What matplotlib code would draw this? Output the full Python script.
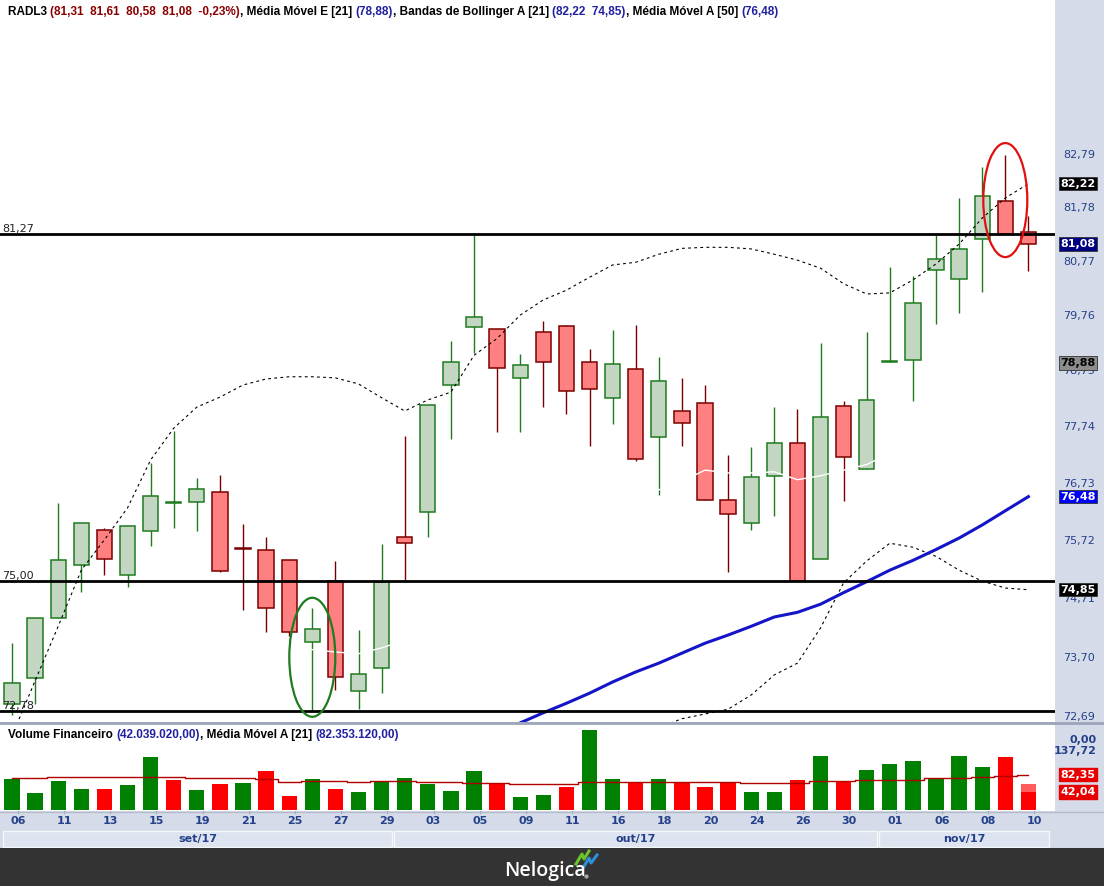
import numpy as np
import matplotlib
matplotlib.use("Agg")
import matplotlib.pyplot as plt
from matplotlib.patches import Ellipse, Rectangle
from matplotlib.lines import Line2D
from matplotlib.text import Annotation
from matplotlib.ticker import NullLocator, NullFormatter
from matplotlib.transforms import ScaledTranslation, blended_transform_factory

# ---- dados (RADL3, diário) ----
days = ["06", "08", "11", "12", "13", "14", "15", "18", "19", "20", "21", "22", "25", "26", "27",
        "28", "29", "02", "03", "04", "05", "06", "09", "10", "11", "13", "16", "17", "18", "19",
        "20", "23", "24", "25", "26", "27", "30", "31", "01", "03", "06", "07", "08", "09", "10"]
months = ["set/17"] * 17 + ["out/17"] * 21 + ["nov/17"] * 7

opens = [72.90, 73.34, 74.37, 75.28, 75.89, 75.10, 75.87, 76.36, 76.38, 76.56, 75.57, 75.54, 75.37,
         73.95, 75.00, 73.12, 73.51, 75.77, 76.21, 78.48, 79.54, 79.50, 78.61, 79.45, 79.56, 78.90,
         78.25, 78.77, 77.54, 78.01, 78.16, 76.42, 76.01, 76.85, 77.43, 75.38, 78.10, 76.97, 78.89,
         78.94, 80.60, 80.43, 81.18, 81.89, 81.31]
highs = [73.93, 74.36, 76.37, 76.01, 75.92, 75.96, 77.08, 77.65, 76.81, 76.86, 75.99, 75.77, 75.37,
         74.53, 75.35, 74.16, 75.65, 77.56, 78.12, 79.29, 81.27, 79.50, 79.04, 79.65, 79.58, 79.13,
         79.49, 79.58, 78.99, 78.61, 78.48, 77.22, 77.36, 78.08, 78.05, 79.25, 78.19, 79.45, 80.65,
         80.48, 81.25, 81.95, 82.54, 82.77, 81.61]
lows = [72.71, 72.90, 74.37, 74.81, 75.11, 74.90, 75.61, 75.92, 75.87, 75.15, 74.50, 74.12, 74.05,
        72.80, 73.13, 72.81, 73.08, 75.00, 75.77, 77.51, 79.06, 77.63, 77.63, 78.08, 77.96, 77.38,
        77.78, 77.12, 76.51, 77.38, 76.42, 75.15, 75.90, 76.14, 75.00, 75.38, 76.40, 76.97, 78.89,
        78.19, 79.60, 79.80, 80.19, 81.27, 80.58]
closes = [73.25, 74.36, 75.37, 76.01, 75.38, 75.96, 76.49, 76.37, 76.61, 75.18, 75.56, 74.53, 74.12,
          74.17, 73.35, 73.41, 74.98, 75.66, 78.12, 78.90, 79.72, 78.79, 78.84, 78.90, 78.37, 78.41,
          78.86, 77.15, 78.55, 77.79, 76.42, 76.17, 76.83, 77.43, 75.00, 77.90, 77.19, 78.21, 78.90,
          79.98, 80.81, 80.99, 81.99, 81.27, 81.08]

ema21 = [72.40, 72.50, 72.70, 72.90, 73.10, 73.30, 73.50, 73.65, 73.78, 73.88, 73.95, 73.95, 73.90,
         73.82, 73.78, 73.75, 73.85, 73.98, 74.20, 74.50, 74.90, 75.20, 75.45, 75.70, 75.90, 76.10,
         76.30, 76.45, 76.60, 76.75, 76.95, 76.90, 76.90, 76.92, 76.78, 76.85, 76.95, 77.05, 77.25,
         77.50, 77.75, 78.00, 78.30, 78.60, 78.88]
bb_upper = [72.36, 73.29, 74.22, 75.19, 75.72, 76.28, 77.13, 77.70, 78.08, 78.26, 78.48, 78.59, 78.63,
            78.63, 78.61, 78.50, 78.25, 78.01, 78.21, 78.35, 79.02, 79.33, 79.76, 80.04, 80.22, 80.46,
            80.69, 80.74, 80.89, 81.00, 81.02, 81.02, 80.99, 80.89, 80.78, 80.63, 80.34, 80.15, 80.17,
            80.41, 80.71, 81.08, 81.57, 81.95, 82.22]
nan = np.nan
bb_lower = [nan] * 27 + [72.38, 72.50, 72.65, 72.73, 72.81, 73.05, 73.39, 73.59, 74.19, 74.97, 75.35,
                         75.66, 75.59, 75.43, 75.19, 75.00, 74.88, 74.85]
sma50 = [nan] * 22 + [72.58, 72.75, 72.91, 73.08, 73.27, 73.44, 73.59, 73.76, 73.93, 74.07, 74.22,
                      74.38, 74.46, 74.60, 74.80, 74.99, 75.19, 75.36, 75.55, 75.75, 75.98, 76.23, 76.48]

# volume financeiro em milhões de R$
volume = [72.4, 39.7, 67.8, 49.1, 49.1, 58.4, 123.8, 70.1, 46.7, 60.7, 63.1, 91.1, 32.7, 72.4, 49.1,
          42.1, 67.8, 74.8, 60.7, 44.4, 91.1, 63.1, 30.4, 35.0, 53.7, 187.0, 72.4, 65.4, 72.4, 65.4,
          53.7, 65.4, 42.1, 42.1, 70.1, 126.2, 67.8, 93.5, 107.5, 114.5, 74.8, 126.2, 100.5, 123.8,
          42.03902]
vol_proj_last = 60.7
vol_ma21 = [74.8, 74.8, 77.1, 77.1, 77.1, 77.1, 77.1, 77.1, 74.8, 74.8, 74.8, 72.4, 65.4, 67.8, 67.8,
            65.4, 67.8, 67.8, 65.4, 65.4, 63.1, 63.1, 60.7, 60.7, 60.7, 65.4, 65.4, 65.4, 65.4, 65.4,
            65.4, 65.4, 63.1, 63.1, 63.1, 67.8, 67.8, 70.1, 70.1, 70.1, 74.8, 74.8, 77.1, 79.4, 82.35312]

levels = [81.27, 75.00, 72.78]
price_ticks = [72.69, 73.70, 74.71, 75.72, 76.73, 77.74, 78.75, 79.76, 80.77, 81.78, 82.79]


def br(v, nd=2):
    return f"{v:,.{nd}f}".replace(",", "X").replace(".", ",").replace("X", ".")


W, H = 1104, 886
BG = "#d5dbe8"
NAVY_TXT = "#23408a"
HEAD_FONT = "Liberation Sans"
fig = plt.figure(figsize=(W / 100, H / 100), dpi=100, facecolor=BG)


def box(x0, y0, x1, y1):
    return [x0 / W, 1 - y1 / H, (x1 - x0) / W, (y1 - y0) / H]


def rich_chain(x, y, pieces, size):
    prev = fig.text(x / W, 1 - y / H, pieces[0][0], color=pieces[0][1], fontsize=size,
                    family=HEAD_FONT, fontweight="bold", va="center", ha="left", zorder=10)
    for s, col in pieces[1:]:
        a = Annotation(s, xy=(1, 0.5), xycoords=prev, va="center", ha="left", color=col,
                       fontsize=size, family=HEAD_FONT, fontweight="bold", annotation_clip=False)
        a.set_zorder(10)
        fig.add_artist(a)
        prev = a


n = len(closes)
idx = np.arange(n)
o, h, l, c = map(np.array, (opens, highs, lows, closes))
xlim = (-12 / 23.1, (1055 - 12) / 23.1)

# ---- painel de preço ----
ax = fig.add_axes(box(0, 0, 1055, 722))
ax.set_facecolor("white")
ax.set_yscale("log")
ax.set_ylim(72.595, 85.79)
ax.set_xlim(*xlim)
for s in ax.spines.values():
    s.set_visible(False)
ax.set_xticks([])

up = c >= o
wick = np.where(up, "#1e7b1e", "#7a0000")
fill = np.where(up, "#c2d6c2", "#ff8080")
lo_b = np.minimum(o, c)
hgt = np.maximum(np.abs(c - o), 0.02)
ax.vlines(idx, l, h, colors=wick, lw=1.0, zorder=2)
ax.bar(idx, hgt, bottom=lo_b, width=0.66, color=fill, edgecolor=wick, lw=1.1, zorder=3)

ax.plot(idx, ema21, color="white", lw=1, zorder=4)
ax.plot(idx, bb_upper, color="black", lw=0.8, ls=(0, (2.5, 3)), zorder=4)
ax.plot(idx, bb_lower, color="black", lw=0.8, ls=(0, (2.5, 3)), zorder=4)
ax.plot(idx, sma50, color="#1414c8", lw=2.2, zorder=4)

for lv in levels:
    ax.axhline(lv, color="black", lw=2, zorder=5)
    ax.text(0.002, lv, br(lv), transform=blended_transform_factory(ax.transAxes, ax.transData),
            fontsize=8, color="#222222", va="bottom", ha="left", zorder=6)

ax.yaxis.tick_right()
ax.yaxis.set_minor_locator(NullLocator())
ax.yaxis.set_minor_formatter(NullFormatter())
ax.set_yticks(price_ticks)
ax.set_yticklabels([br(v) for v in price_ticks])
ax.tick_params(axis="y", length=0, pad=6, labelsize=8, labelcolor=NAVY_TXT)

btr = blended_transform_factory(ax.transAxes, ax.transData)
tags = [(bb_upper[-1], "black", "white"), (closes[-1], "#000080", "white"),
        (ema21[-1], "#8c8c8c", "black"), (sma50[-1], "#0000ff", "white"),
        (bb_lower[-1], "black", "white")]
for val, fc, tc in tags:
    ax.text(1078 / 1055, val, br(val), transform=btr, ha="center", va="center", fontsize=8,
            fontweight="bold", color=tc, clip_on=False, zorder=7,
            bbox=dict(boxstyle="square,pad=0.15", fc=fc, ec="#333333", lw=0.6))

# destaques
for i, pc, w, hh, col in [(43, 81.91, 0.44, 1.14, "#e01010"), (13, 73.69, 0.46, 1.19, "#1e7b1e")]:
    tr = fig.dpi_scale_trans + ScaledTranslation(i, pc, ax.transData)
    ax.add_artist(Ellipse((0, 0), w, hh, transform=tr, fill=False, ec=col, lw=1.6, zorder=8))

# cabeçalho
pct = (closes[-1] / closes[-2] - 1) * 100
head = [("RADL3 ", "black"),
        (f"({br(opens[-1])}  {br(highs[-1])}  {br(lows[-1])}  {br(closes[-1])}  {br(pct)}%)", "#8b0000"),
        (", Média Móvel E [21] ", "black"), (f"({br(ema21[-1])})", "#2020a0"),
        (", Bandas de Bollinger A [21] ", "black"), (f"({br(bb_upper[-1])}  {br(bb_lower[-1])})", "#2020a0"),
        (", Média Móvel A [50] ", "black"), (f"({br(sma50[-1])})", "#2020a0")]
rich_chain(8, 12, head, 8.5)

# ---- painel de volume ----
vax = fig.add_axes(box(0, 724, 1055, 811))
vax.set_facecolor("white")
vax.set_xlim(*xlim)
vax.set_ylim(-2.3, 200.9)
vax.set_xticks([])
vax.set_yticks([])
for s in vax.spines.values():
    s.set_visible(False)
vol = np.array(volume)
prev_c = np.r_[o[0], c[:-1]]
vcol = np.where(c >= prev_c, "#008000", "#ff0000")
vax.bar(idx[-1], vol_proj_last - vol[-1], bottom=vol[-1], width=0.66, color="#ff5c5c")
vax.bar(idx, vol, width=0.66, color=vcol)
vax.plot(idx, vol_ma21, color="#b00000", lw=1, drawstyle="steps-mid")

vhead = [("Volume Financeiro ", "black"), (f"({br(volume[-1] * 1e6)})", "#2020a0"),
         (", Média Móvel A [21] ", "black"), (f"({br(vol_ma21[-1] * 1e6)})", "#2020a0")]
rich_chain(8, 735, vhead, 8.5)

vtr = blended_transform_factory(vax.transAxes, vax.transData)
vax.text(1097 / 1055, 137.72, br(137.72), transform=vtr, ha="right", va="center", fontsize=8,
         fontweight="bold", color=NAVY_TXT, clip_on=False)
vax.annotate(br(0), xy=(1097 / 1055, 137.72), xycoords=vtr, xytext=(0, 8), textcoords="offset points",
             ha="right", va="center", fontsize=8, fontweight="bold", color=NAVY_TXT, annotation_clip=False)
for val in (vol_ma21[-1], volume[-1]):
    vax.text(1078 / 1055, val, br(val), transform=vtr, ha="center", va="center", fontsize=8,
             fontweight="bold", color="white", clip_on=False,
             bbox=dict(boxstyle="square,pad=0.15", fc="#e80000", ec="#e80000"))

# ---- eixo de datas ----
dax = fig.add_axes(box(0, 811, 1055, 848))
dax.set_xlim(*xlim)
dax.set_ylim(0, 37)
dax.axis("off")
for i in range(0, n, 2):
    dax.text(i + 0.25, 27, days[i], ha="center", va="center", fontsize=8, fontweight="bold",
             color=NAVY_TXT)
    dax.plot([i + 0.25, i + 0.25], [35.5, 37], color="#8a96b0", lw=0.8)
start = 0
month_names = list(dict.fromkeys(months))
for k, m in enumerate(month_names):
    cnt = months.count(m)
    x0, x1 = start - 0.5, start + cnt - 0.5
    if k == 0:
        x0 = xlim[0] + 0.1
    if k == len(month_names) - 1:
        x1 = xlim[1] - 0.2
    dax.add_patch(Rectangle((x0 + 0.05, 1), x1 - x0 - 0.1, 16, fc="#dde3ef", ec="#f5f7fb", lw=1))
    dax.text((x0 + x1) / 2, 9, m, ha="center", va="center", fontsize=8, fontweight="bold",
             color=NAVY_TXT)
    start += cnt

fig.add_artist(Line2D([0, 1], [1 - 723 / H] * 2, color="#9ba4b8", lw=2))
fig.add_artist(Line2D([0, 1], [1 - 811.5 / H] * 2, color="#b4bccc", lw=1))

# ---- rodapé ----
fax = fig.add_axes(box(0, 848, W, H))
fax.set_facecolor("#333333")
fax.set_xlim(0, W)
fax.set_ylim(H, 848)
fax.set_xticks([])
fax.set_yticks([])
for s in fax.spines.values():
    s.set_visible(False)
fax.text(545, 871, "Nelogica", color="white", fontsize=14, family="Open Sans", fontweight="semibold",
         ha="center", va="center")
fax.plot([576, 582, 584, 589], [864, 854, 859, 851], color="#6cc42c", lw=2.2)
fax.plot([583, 589, 591, 597], [868, 858, 863, 855], color="#2e8fd8", lw=2.2)
fax.plot([586], [876], marker="o", ms=2, color="#aaaaaa")

fig.savefig("out.png", dpi=100, facecolor=BG)
